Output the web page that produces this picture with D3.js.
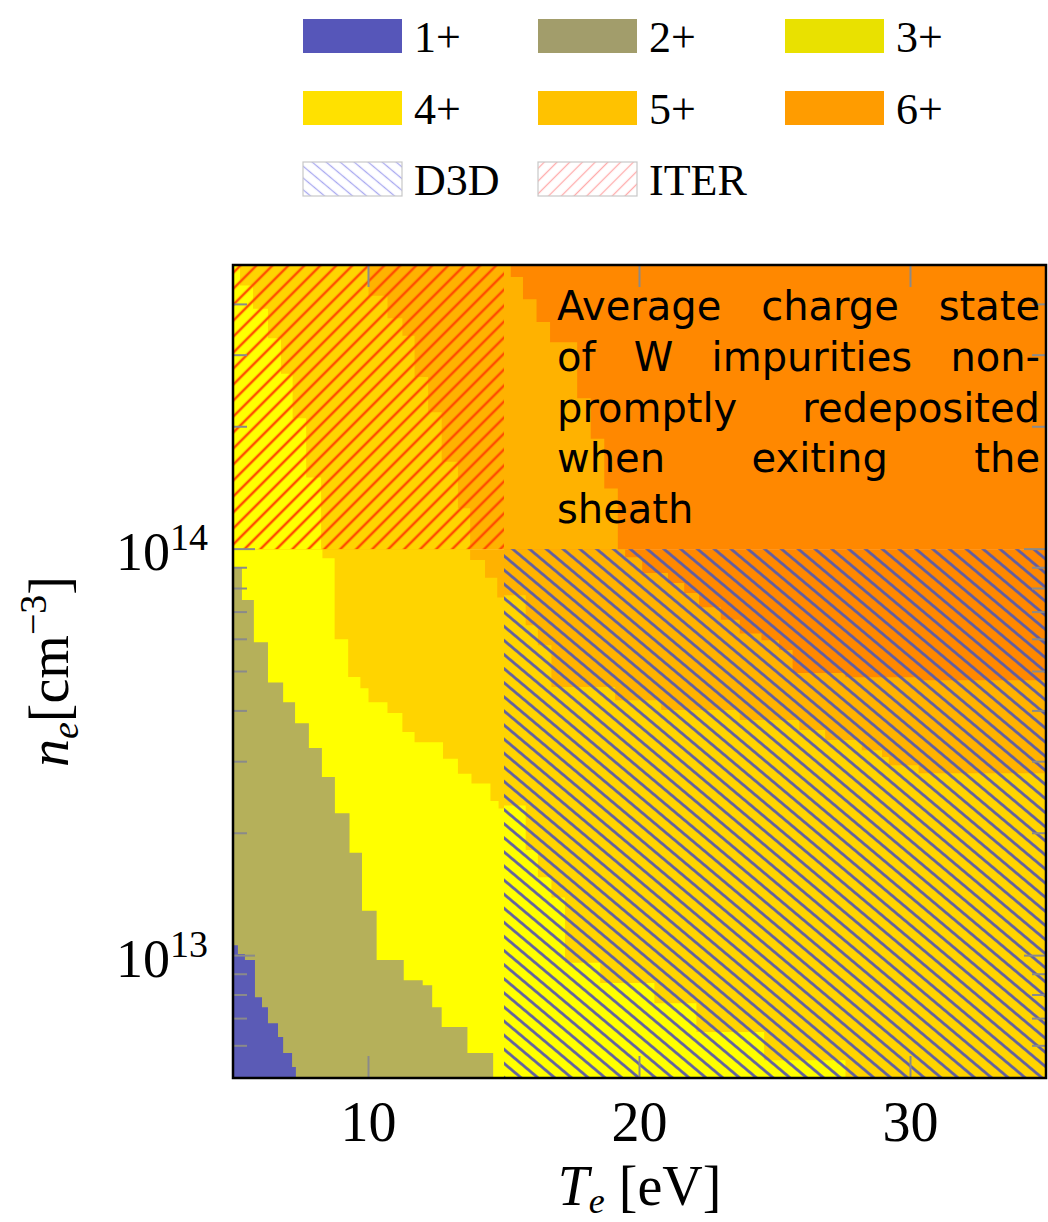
<!DOCTYPE html>
<html lang="en">

<head>
    <meta charset="utf-8">
    <title>Average charge state of W impurities</title>
    <script type="text/javascript" src="https://cdn.jsdelivr.net/npm/d3@7"></script>
    <style>
        body {
            margin: 0;
            background: #fff;
        }
    </style>
</head>

<body>
    <script type="text/javascript">
        // Canvas and plot box
        var w = 1048;
        var h = 1222;
        var margin = { top: 265, right: 2, bottom: 144, left: 233 };
        var pw = w - margin.left - margin.right;
        var ph = h - margin.top - margin.bottom;

        // Axes -------------------------------------------------
        var teRange = [5, 35];
        var neRange = [5e12, 5e14];
        var teSplit = 15;   // D3D / ITER regions split here
        var neSplit = 1e14;
        var xTicks = [10, 20, 30];
        var yTicks = [1e13, 1e14];
        var yTickExp = ["13", "14"];

        // Charge states
        var states = ["1+", "2+", "3+", "4+", "5+", "6+"];
        var stateColors = ["#5b5bb6", "#b5b05a", "#ffff00", "#ffd400", "#ffb200", "#ff8800"];
        var legendColors = ["#5656b9", "#a29d6b", "#e9e100", "#ffe100", "#ffc200", "#ff9c00"];

        // Boundaries: [ne where the step starts (going down), Te below which the lower state holds]
        // bottom-left block (Te 5-15, ne < 1e14)
        var bA45 = [[1e14, 13.75], [9.4e13, 14.3], [8.5e13, 14.75], [7.6e13, 15]];
        var bA34 = [[1e14, 8.3], [9.5e13, 8.75], [6.0e13, 9.25], [4.85e13, 9.7], [4.55e13, 10.0],
            [4.2e13, 10.7], [3.95e13, 11.25], [3.55e13, 11.7], [3.35e13, 12.75], [3.05e13, 13.3],
            [2.8e13, 13.8], [2.65e13, 14.5], [2.4e13, 14.8], [2.3e13, 15]];
        var bA23 = [[1e14, 5], [9.0e13, 5.33], [7.5e13, 5.77], [5.9e13, 6.29], [4.7e13, 6.85],
            [4.2e13, 7.29], [3.73e13, 7.8], [3.24e13, 8.28], [2.75e13, 8.76], [2.24e13, 9.3],
            [1.79e13, 9.76], [1.29e13, 10.3], [9.75e12, 11.3], [8.7e12, 12.0], [8.45e12, 12.35],
            [7.47e12, 12.7], [6.67e12, 13.65], [5.76e12, 14.6]];
        var bA12 = [[1e14, 5], [1.06e13, 5.18], [1.01e13, 5.44], [9.75e12, 5.81], [7.9e12, 6.07],
            [7.47e12, 6.29], [6.82e12, 6.66], [6.31e12, 6.85], [5.76e12, 7.18], [5.32e12, 7.32]];

        // top-left block (ITER)
        var bB45 = [[5e14, 10.0], [4.2e14, 10.7], [3.7e14, 11.25], [3.35e14, 11.7], [2.65e14, 12.2],
            [2.17e14, 12.7], [1.64e14, 13.3], [1.26e14, 13.75]];
        var bB34 = [[5e14, 5.26], [4.45e14, 5.74], [3.9e14, 6.29], [3.3e14, 6.77], [2.7e14, 7.2],
            [2.1e14, 7.7], [1.5e14, 8.25]];

        // top-right block
        var bC56 = [[5e14, 15.25], [4.67e14, 15.7], [4.12e14, 16.2], [3.62e14, 16.7], [3.23e14, 17.7],
            [2.35e14, 18.2], [1.87e14, 18.7], [1.41e14, 19.2]];

        // bottom-right block (D3D)
        var bD56 = [[1e14, 19.47], [9.55e13, 20.1], [8.73e13, 21.05], [8.25e13, 21.65], [7.8e13, 22.2],
            [7.2e13, 23.0], [6.7e13, 23.7], [6.2e13, 24.5], [5.97e13, 25.15], [5.65e13, 25.65],
            [4.96e13, 27.6], [4.84e13, 30.3], [4.76e13, 35]];
        var bD45 = [[1e14, 15], [7.7e13, 15.8], [6.5e13, 16.25], [5.8e13, 16.75], [4.58e13, 19.1],
            [4.25e13, 20.8], [4.02e13, 23.7], [3.8e13, 25.9], [3.59e13, 26.85], [3.39e13, 28.2],
            [3.2e13, 28.95], [3.08e13, 29.2], [2.94e13, 30.3], [2.81e13, 35]];
        var bD34 = [[1e14, 15], [2.34e13, 15.8], [1.82e13, 16.25], [1.56e13, 16.75], [1.39e13, 17.25],
            [9.6e12, 18.55], [8.56e12, 20.55], [7.64e12, 22.1], [6.49e12, 24.6], [5.53e12, 27.6]];

        var noteLines = ["Average charge state", "of W impurities non-", "promptly redeposited",
            "when exiting the", "sheath"];

        // blocks: base state index, then boundaries painted from high to low
        var blocks = [
            { te: [teRange[0], teSplit], ne: [neRange[0], neSplit], base: 4, bounds: [[3, bA45], [2, bA34], [1, bA23], [0, bA12]] },
            { te: [teRange[0], teSplit], ne: [neSplit, neRange[1]], base: 4, bounds: [[3, bB45], [2, bB34]] },
            { te: [teSplit, teRange[1]], ne: [neSplit, neRange[1]], base: 5, bounds: [[4, bC56]] },
            { te: [teSplit, teRange[1]], ne: [neRange[0], neSplit], base: 5, bounds: [[4, bD56], [3, bD45], [2, bD34]] }
        ];

        // Scales ------------------------------------------------
        var x = d3.scaleLinear().domain(teRange).range([0, pw]);
        var y = d3.scaleLog().domain(neRange).range([ph, 0]);

        var svg = d3.select("body")
            .append("svg")
            .attr("width", w)
            .attr("height", h);

        var defs = svg.append("defs");

        function hatch(id, angle, gap, color, width) {
            var p = defs.append("pattern")
                .attr("id", id)
                .attr("patternUnits", "userSpaceOnUse")
                .attr("width", gap)
                .attr("height", gap)
                .attr("patternTransform", "rotate(" + angle + ")");
            p.append("line")
                .attr("x1", gap / 2).attr("x2", gap / 2)
                .attr("y1", -1).attr("y2", gap + 1)
                .attr("stroke", color)
                .attr("stroke-width", width);
        }
        hatch("d3d", -50, 10.8, "#5c5ca6", 2.7);
        hatch("iter", 45, 11.3, "#ff4e00", 2.5);
        hatch("d3dLegend", -50, 9, "#a9a9f0", 1.3);
        hatch("iterLegend", 45, 9, "#ffabab", 1.3);

        var plot = svg.append("g")
            .attr("transform", "translate(" + margin.left + "," + margin.top + ")");

        // Charge state map --------------------------------------
        blocks.forEach(function(b) {
            plot.append("rect")
                .attr("x", x(b.te[0]))
                .attr("y", y(b.ne[1]))
                .attr("width", x(b.te[1]) - x(b.te[0]))
                .attr("height", y(b.ne[0]) - y(b.ne[1]))
                .attr("fill", stateColors[b.base]);

            b.bounds.forEach(function(bd) {
                var steps = bd[1];
                var pts = steps.concat([[b.ne[0], steps[steps.length - 1][1]]]);
                var area = d3.area()
                    .curve(d3.curveStepBefore)
                    .y(function(d) { return y(d[0]); })
                    .x0(x(b.te[0]))
                    .x1(function(d) { return x(d[1]); });
                plot.append("path")
                    .attr("d", area(pts))
                    .attr("fill", stateColors[bd[0]]);
            });
        });

        // Hatched machine regions
        plot.append("rect")
            .attr("x", x(teSplit)).attr("y", y(neSplit))
            .attr("width", x(teRange[1]) - x(teSplit))
            .attr("height", y(neRange[0]) - y(neSplit))
            .attr("fill", "url(#d3d)");
        plot.append("rect")
            .attr("x", x(teRange[0])).attr("y", y(neRange[1]))
            .attr("width", x(teSplit) - x(teRange[0]))
            .attr("height", y(neSplit) - y(neRange[1]))
            .attr("fill", "url(#iter)");

        // Ticks (inside) ----------------------------------------
        var tickColor = "#8a8a8a";
        var logTicks = y.ticks().filter(function(d) { return d > neRange[0] && d < neRange[1]; });
        logTicks.forEach(function(d) {
            var len = yTicks.indexOf(d) >= 0 ? 22 : 14;
            [[0, len], [pw - len, pw]].forEach(function(s) {
                plot.append("line")
                    .attr("x1", s[0]).attr("x2", s[1])
                    .attr("y1", y(d)).attr("y2", y(d))
                    .attr("stroke", tickColor).attr("stroke-width", 2);
            });
        });
        xTicks.forEach(function(d) {
            [[0, 22], [ph - 22, ph]].forEach(function(s) {
                plot.append("line")
                    .attr("x1", x(d)).attr("x2", x(d))
                    .attr("y1", s[0]).attr("y2", s[1])
                    .attr("stroke", tickColor).attr("stroke-width", 2);
            });
        });

        // Annotation, justified ---------------------------------
        var note = plot.append("g")
            .attr("font-family", "'DejaVu Sans', sans-serif")
            .attr("font-size", 40)
            .attr("fill", "#000");
        var noteLeft = 324, noteRight = 807, noteTop = 55, lead = 50.8;
        noteLines.forEach(function(line, i) {
            var words = line.split(" ");
            var texts = words.map(function(wd) {
                return note.append("text").text(wd).attr("y", noteTop + i * lead);
            });
            var widths = texts.map(function(t) { return t.node().getComputedTextLength(); });
            var gap = (i < noteLines.length - 1 && words.length > 1) ?
                (noteRight - noteLeft - d3.sum(widths)) / (words.length - 1) : 12;
            var cx = noteLeft;
            texts.forEach(function(t, j) {
                t.attr("x", cx);
                cx += widths[j] + gap;
            });
        });

        // Frame
        plot.append("rect")
            .attr("width", pw).attr("height", ph)
            .attr("fill", "none")
            .attr("stroke", "#000")
            .attr("stroke-width", 2.5);

        // Tick labels -------------------------------------------
        var serif = "'Liberation Serif', 'Times New Roman', serif";
        plot.selectAll("text.xt")
            .data(xTicks)
            .enter()
            .append("text")
            .attr("class", "xt")
            .attr("x", function(d) { return x(d); })
            .attr("y", ph + 63)
            .attr("text-anchor", "middle")
            .attr("font-family", serif)
            .attr("font-size", 56)
            .text(function(d) { return d; });

        yTicks.forEach(function(d, i) {
            var t = plot.append("text")
                .attr("x", -25)
                .attr("y", y(d) + 21)
                .attr("text-anchor", "end")
                .attr("font-family", serif)
                .attr("font-size", 54);
            t.append("tspan").text("10");
            t.append("tspan").attr("font-size", 38).attr("dy", -20).text(yTickExp[i]);
        });

        // Axis titles
        var xt = svg.append("text")
            .attr("x", margin.left + pw / 2)
            .attr("y", 1205)
            .attr("text-anchor", "middle")
            .attr("font-family", serif)
            .attr("font-size", 56);
        xt.append("tspan").attr("font-style", "italic").text("T");
        xt.append("tspan").attr("font-style", "italic").attr("font-size", 36).attr("dy", 8).text("e");
        xt.append("tspan").attr("dy", -8).text(" [eV]");

        var yt = svg.append("text")
            .attr("transform", "translate(68," + (margin.top + ph / 2) + ") rotate(-90)")
            .attr("text-anchor", "middle")
            .attr("font-family", serif)
            .attr("font-size", 56);
        yt.append("tspan").attr("font-style", "italic").text("n");
        yt.append("tspan").attr("font-style", "italic").attr("font-size", 38).attr("dy", 10).text("e");
        yt.append("tspan").attr("dy", -10).text("[cm");
        yt.append("tspan").attr("font-size", 38).attr("dy", -22).text("\u22123");
        yt.append("tspan").attr("dy", 22).text("]");

        // Legend ------------------------------------------------
        var legendItems = states.map(function(s, i) {
            return { label: s, fill: legendColors[i], border: "none" };
        }).concat([
            { label: "D3D", fill: "url(#d3dLegend)", border: "#c8c8c8" },
            { label: "ITER", fill: "url(#iterLegend)", border: "#c8c8c8" }
        ]);
        var colX = [303, 538, 785];
        var rowY = [19, 91, 162];

        var legend = svg.append("g");
        legendItems.forEach(function(it, i) {
            var gx = colX[i % 3], gy = rowY[Math.floor(i / 3)];
            legend.append("rect")
                .attr("x", gx).attr("y", gy)
                .attr("width", 99).attr("height", 34)
                .attr("fill", it.fill)
                .attr("stroke", it.border)
                .attr("stroke-width", 1.2);
            legend.append("text")
                .attr("x", gx + 111)
                .attr("y", gy + 33)
                .attr("font-family", serif)
                .attr("font-size", 44)
                .text(it.label);
        });
    </script>

</body>

</html>
